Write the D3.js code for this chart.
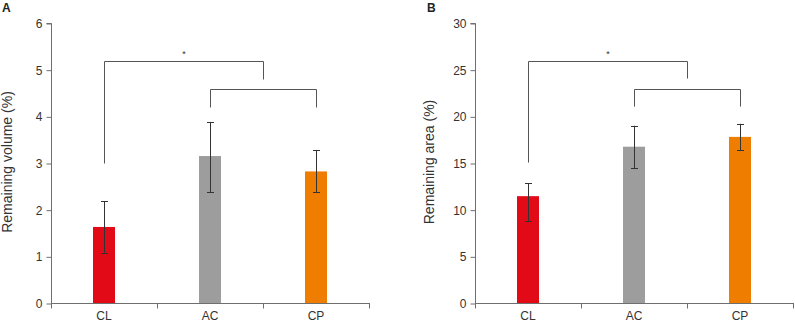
<!DOCTYPE html>
<html>
<head>
<meta charset="utf-8">
<script src="https://cdn.jsdelivr.net/npm/d3@7"></script>
<style>
  html, body { margin: 0; padding: 0; background: #fff; }
  svg { display: block; font-family: "Liberation Sans", Arial, sans-serif; }
</style>
</head>
<body>
<svg id="chart" width="795" height="322"></svg>
<script>
// Treatment groups
const categories = ["CL", "AC", "CP"];
const barColors = ["#e30a17", "#9d9d9d", "#ef7d00"];

// Panel A: remaining volume (%)
const volumeMean = [1.64, 3.16, 2.83];
const volumeLow  = [1.09, 2.39, 2.39];
const volumeHigh = [2.19, 3.89, 3.29];
const volumeTicks = [0, 1, 2, 3, 4, 5, 6];

// Panel B: remaining area (%)
const areaMean = [11.5, 16.8, 17.85];
const areaLow  = [8.8, 14.5, 16.4];
const areaHigh = [12.9, 19.05, 19.25];
const areaTicks = [0, 5, 10, 15, 20, 25, 30];

// Significance brackets: group positions, bracket level, left/right leg ends
const volumeBrackets = [
  { from: 0, to: 1.5, level: 5.2, leftEnd: 3.0, rightEnd: 4.8, star: true },
  { from: 1, to: 2, level: 4.6, leftEnd: 4.2, rightEnd: 4.2, star: false }
];
const areaBrackets = [
  { from: 0, to: 1.5, level: 26.0, leftEnd: 15.1, rightEnd: 24.1, star: true },
  { from: 1, to: 2, level: 23.0, leftEnd: 21.1, rightEnd: 21.1, star: false }
];

const svg = d3.select("#chart");
const axisColor = "#6f6f6f";
const textColor = "#333";

function panel(opts) {
  const g = svg.append("g");
  const x = d3.scaleBand().domain(categories).range([opts.x0, opts.x1]).padding(0);
  const y = d3.scaleLinear().domain([0, opts.max]).range([303.5, 23.5]);
  const bw = 22;
  const cx = i => x(categories[i]) + x.bandwidth() / 2;
  const cxf = f => opts.x0 + (f + 0.5) * x.bandwidth();

  // bars
  g.selectAll("rect.bar").data(opts.mean).join("rect")
    .attr("x", (d, i) => cx(i) - bw / 2)
    .attr("y", d => y(d))
    .attr("width", bw)
    .attr("height", d => y(0) - y(d))
    .attr("fill", (d, i) => barColors[i]);

  // error bars
  const eg = g.append("g").attr("stroke", "#333").attr("stroke-width", 1);
  opts.mean.forEach((d, i) => {
    const c = Math.round(cx(i)) + 0.5;
    eg.append("line").attr("x1", c).attr("x2", c)
      .attr("y1", y(opts.high[i])).attr("y2", y(opts.low[i]));
    [opts.high[i], opts.low[i]].forEach(v => {
      eg.append("line").attr("x1", c - 3.5).attr("x2", c + 3.5)
        .attr("y1", Math.round(y(v)) + 0.5).attr("y2", Math.round(y(v)) + 0.5);
    });
  });

  // brackets
  const bg = g.append("g").attr("stroke", "#555").attr("fill", "none").attr("stroke-width", 1);
  opts.brackets.forEach(b => {
    const xl = Math.round(cxf(b.from)) + 0.5;
    const xr = Math.round(cxf(b.to)) + 0.5;
    const yl = Math.round(y(b.level)) + 0.5;
    bg.append("path")
      .attr("d", `M${xl},${y(b.leftEnd)}V${yl}H${xr}V${y(b.rightEnd)}`);
    if (b.star) {
      g.append("text")
        .attr("x", (xl + xr) / 2).attr("y", yl - 5)
        .attr("text-anchor", "middle")
        .attr("font-size", 9).attr("fill", "#333")
        .text("*");
    }
  });

  // y axis
  const ya = g.append("g").attr("transform", `translate(${opts.x0 + 0.5},0)`)
    .call(d3.axisLeft(y).tickValues(opts.ticks).tickFormat(d3.format("d"))
      .tickSize(5).tickPadding(4));
  // x axis
  const xa = g.append("g").attr("transform", `translate(0,303.5)`)
    .call(d3.axisBottom(x).tickSize(5).tickPadding(3));
  xa.selectAll(".tick line").remove();
  // category boundary ticks
  [opts.x0, opts.x0 + x.bandwidth(), opts.x0 + 2 * x.bandwidth(), opts.x1].forEach(t => {
    xa.append("line").attr("x1", Math.round(t) + 0.5).attr("x2", Math.round(t) + 0.5)
      .attr("y1", 0).attr("y2", 5).attr("stroke", axisColor);
  });
  [ya, xa].forEach(a => {
    a.select(".domain").attr("stroke", axisColor);
    a.selectAll(".tick line").attr("stroke", axisColor);
    a.selectAll("text").attr("font-size", 12).attr("fill", textColor)
      .attr("font-family", "Liberation Sans, Arial, sans-serif");
  });
  ya.select(".domain").attr("d", `M-5,${y(opts.max)}H0V${y(0)}`);
  xa.select(".domain").attr("d", `M${opts.x0},0H${opts.x1 + 1}`);

  // axis title
  g.append("text")
    .attr("transform", `translate(${opts.titleX},162) rotate(-90)`)
    .attr("text-anchor", "middle")
    .attr("font-size", 14).attr("fill", textColor)
    .text(opts.title);

  // panel letter
  g.append("text")
    .attr("x", opts.letterX).attr("y", 12)
    .attr("font-size", 12).attr("font-weight", "bold").attr("fill", "#222")
    .text(opts.letter);
}

panel({
  x0: 51, x1: 369, max: 6, ticks: volumeTicks,
  mean: volumeMean, low: volumeLow, high: volumeHigh,
  brackets: volumeBrackets,
  title: "Remaining volume (%)", titleX: 12, letter: "A", letterX: 2
});
panel({
  x0: 475, x1: 793, max: 30, ticks: areaTicks,
  mean: areaMean, low: areaLow, high: areaHigh,
  brackets: areaBrackets,
  title: "Remaining area (%)", titleX: 434, letter: "B", letterX: 427
});
</script>
</body>
</html>
